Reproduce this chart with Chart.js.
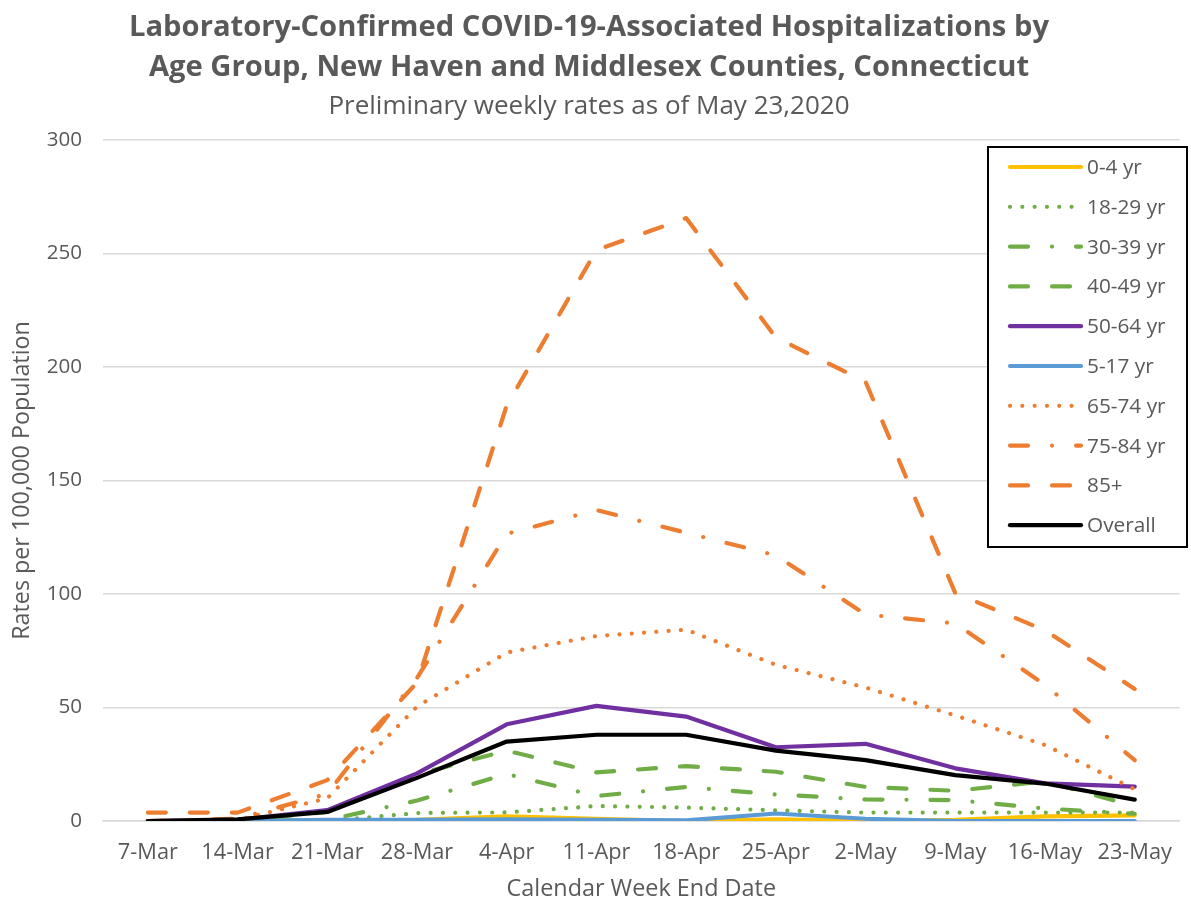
<!DOCTYPE html>
<html>
<head>
<meta charset="utf-8">
<script src="https://cdn.jsdelivr.net/npm/chart.js@4.4.1/dist/chart.umd.min.js"></script>
<style>
html,body{margin:0;padding:0;background:#fff;}
#wrap{width:1191px;height:901px;position:relative;}
</style>
</head>
<body>
<div id="wrap"><canvas id="c" width="1191" height="901"></canvas></div>
<script>
const weeks = ['7-Mar','14-Mar','21-Mar','28-Mar','4-Apr','11-Apr','18-Apr','25-Apr','2-May','9-May','16-May','23-May'];
const age0_4   = [0, 0, 0, 0.5, 2, 1, 0, 0.7, 0, 0.5, 2, 2.5];
const age18_29 = [0, 0, 0, 3.5, 3.8, 6.6, 5.9, 4.7, 3.7, 3.7, 3.7, 3.7];
const age30_39 = [0, 0, 0.5, 9, 20.7, 11, 15, 11.7, 9.5, 9.2, 5.5, 3.2];
const age40_49 = [0, 0, 4, 20.5, 31, 21.4, 24.2, 21.7, 15, 13.3, 17.5, 6.5];
const age50_64 = [0, 0.5, 4.8, 21, 42.6, 50.7, 46, 32.5, 34, 23.2, 16.6, 15.1];
const age5_17  = [0, 0, 0.5, 0.5, 0.7, 0.5, 0.3, 3.3, 1, 0, 0, 0];
const age65_74 = [0, 0.5, 10, 50.4, 74.2, 81.5, 84.3, 68.8, 58.8, 46.5, 33.5, 14];
const age75_84 = [0, 1, 12, 63, 126.5, 137, 127, 117, 91, 87, 60, 26.8];
const age85    = [3.7, 3.7, 18, 61, 183, 251.5, 265.6, 213, 193.5, 100.4, 84, 58.2];
const overall  = [0, 0.7, 4, 19, 35, 38, 38, 31, 26.8, 20.2, 16.5, 9.4];
const yTicks = [0, 50, 100, 150, 200, 250, 300];

const titleLines = ['Laboratory-Confirmed COVID-19-Associated Hospitalizations by', 'Age Group, New Haven and Middlesex Counties, Connecticut'];
const subtitleText = 'Preliminary weekly rates as of May 23,2020';
const xTitle = 'Calendar Week End Date';
const yTitle = 'Rates per 100,000 Population';

const FONT = '"Open Sans", Lato, sans-serif';
const TXT = '#595959';
const YEL = '#FFC000', GRN = '#70AD47', PUR = '#7030A0', BLU = '#5B9BD5', ORA = '#ED7D31';
const DOT = [0.01, 12.3];
const DASH = [18, 24];
const DASHDOT = [18, 24, 0.01, 24];

const series = [
  {label:'0-4 yr',    data:age0_4,   color:YEL, dash:[]},
  {label:'18-29 yr',  data:age18_29, color:GRN, dash:DOT},
  {label:'30-39 yr',  data:age30_39, color:GRN, dash:DASHDOT},
  {label:'40-49 yr',  data:age40_49, color:GRN, dash:DASH},
  {label:'50-64 yr',  data:age50_64, color:PUR, dash:[]},
  {label:'5-17 yr',   data:age5_17,  color:BLU, dash:[]},
  {label:'65-74 yr',  data:age65_74, color:ORA, dash:DOT},
  {label:'75-84 yr',  data:age75_84, color:ORA, dash:DASHDOT},
  {label:'85+',       data:age85,    color:ORA, dash:DASH},
  {label:'Overall',   data:overall,  color:'#000000', dash:[]}
];

const datasets = series.map((s, i) => ({
  label: s.label,
  data: s.data,
  borderColor: s.color,
  backgroundColor: s.color,
  borderWidth: 4.2,
  borderDash: s.dash,
  borderCapStyle: 'round',
  borderJoinStyle: 'round',
  pointRadius: 0,
  tension: 0,
  fill: false,
  order: series.length - 1 - i
}));

const textPlugin = {
  id: 'texts',
  afterDraw(chart) {
    const ctx = chart.ctx;
    const ca = chart.chartArea;
    ctx.save();
    ctx.fillStyle = TXT;
    ctx.textAlign = 'center';
    ctx.textBaseline = 'middle';
    ctx.font = 'bold 29.2px ' + FONT;
    ctx.fillText(titleLines[0], 589, 28);
    ctx.fillText(titleLines[1], 589, 68);
    ctx.font = '26px ' + FONT;
    ctx.fillText(subtitleText, 589, 107);
    ctx.font = '23.4px ' + FONT;
    ctx.fillText(xTitle, (ca.left + ca.right) / 2, 889);
    ctx.font = '23.3px ' + FONT;
    ctx.translate(22, (ca.top + ca.bottom) / 2);
    ctx.rotate(-Math.PI / 2);
    ctx.fillText(yTitle, 0, 0);
    ctx.restore();

    // legend
    ctx.save();
    const bx = 988, by = 147, bw = 199, bh = 400;
    ctx.fillStyle = '#ffffff';
    ctx.fillRect(bx, by, bw, bh);
    ctx.strokeStyle = '#000000';
    ctx.lineWidth = 2;
    ctx.strokeRect(bx, by, bw, bh);
    ctx.font = '20.8px ' + FONT;
    ctx.textAlign = 'left';
    ctx.textBaseline = 'middle';
    chart.data.datasets.forEach((ds, i) => {
      const y = 167 + i * 39.8;
      ctx.beginPath();
      ctx.strokeStyle = ds.borderColor;
      ctx.lineWidth = 4.2;
      ctx.lineCap = 'round';
      ctx.setLineDash(ds.borderDash || []);
      ctx.moveTo(1010, y);
      ctx.lineTo(1081, y);
      ctx.stroke();
      ctx.setLineDash([]);
      ctx.fillStyle = TXT;
      ctx.fillText(ds.label, 1087, y + 1);
    });
    ctx.restore();
  }
};

new Chart(document.getElementById('c'), {
  type: 'line',
  data: { labels: weeks, datasets: datasets },
  options: {
    responsive: false,
    animation: false,
    devicePixelRatio: 1,
    layout: { padding: { top: 140, left: 0, right: 0, bottom: 0 } },
    plugins: { legend: { display: false }, title: { display: false }, tooltip: { enabled: false } },
    scales: {
      x: {
        type: 'category',
        offset: true,
        grid: { display: false, drawTicks: false },
        border: { display: true, color: '#d9d9d9', width: 1.5 },
        ticks: { color: TXT, font: { family: FONT, size: 21.8 }, padding: 19, maxRotation: 0, autoSkip: false },
        afterFit(scale) { scale.height = 80; }
      },
      y: {
        min: 0, max: 300,
        afterBuildTicks(scale) { scale.ticks = yTicks.map(v => ({ value: v })); },
        grid: { color: '#d9d9d9', lineWidth: 1.5, drawTicks: false },
        border: { display: false },
        ticks: { color: TXT, font: { family: FONT, size: 20.6 }, padding: 21 },
        afterFit(scale) { scale.width = 103; }
      }
    }
  },
  plugins: [textPlugin]
});
</script>
</body>
</html>
